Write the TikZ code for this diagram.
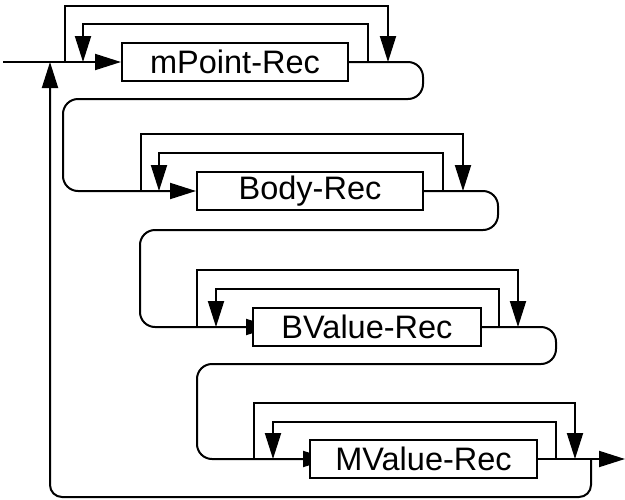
\documentclass[tikz,border=0pt]{standalone}
\usepackage{fontspec}
\setmainfont{Liberation Sans}
\usetikzlibrary{arrows.meta}
\pgfdeclarelayer{bg}
\pgfsetlayers{bg,main}
\begin{document}
\begin{tikzpicture}[x=1pt,y=-1pt,
  rec/.style={draw, line width=2pt, fill=white, minimum width=226pt, minimum height=38pt,
    inner sep=0pt, font=\fontsize{32.5}{36}\selectfont},
  arr/.style={line width=2pt, -{Triangle[length=26pt,width=16pt]}},
  loopline/.style={rounded corners=15pt},
  ]
\useasboundingbox (0,0) rectangle (625,499);

% boxes
\node[rec] (b1) at (235,62) {mPoint-Rec};
\node[rec] (b2) at (310,191) {Body-Rec};
\node[rec, minimum width=228pt] (b3) at (367,327) {BValue-Rec};
\node[rec, minimum width=227pt] (b4) at (423.5,459) {MValue-Rec};

% coordinates
\coordinate (s) at (3,62);
\coordinate (j1) at (50,62);
\coordinate (oL1) at (65,62);  \coordinate (iL1) at (83,62);
\coordinate (iR1) at (368,62); \coordinate (oR1) at (388,62);
\coordinate (rc1) at (423,99); \coordinate (lc1) at (63,99);

\coordinate (oL2) at (141,191); \coordinate (iL2) at (159,191);
\coordinate (iR2) at (443,191); \coordinate (oR2) at (463,191);
\coordinate (rc2) at (498,230); \coordinate (lc2) at (140,230);

\coordinate (oL3) at (197,327); \coordinate (iL3) at (216,327);
\coordinate (iR3) at (499,327); \coordinate (oR3) at (518,327);
\coordinate (rc3) at (556,364); \coordinate (lc3) at (197,364);
\coordinate (t3) at (272,327);

\coordinate (oL4) at (254,459); \coordinate (iL4) at (273,459);
\coordinate (iR4) at (556,459); \coordinate (oR4) at (575,459);
\coordinate (t4) at (329,459);
\coordinate (rb) at (591,459); \coordinate (rbc) at (591,497);
\coordinate (lbc) at (50,497);
\coordinate (e) at (625,459);

\begin{pgfonlayer}{bg}
% row 1
\draw[arr] (s) -- (b1.west);
\draw[arr] (oL1) -- ++(0,-56) -| (oR1);
\draw[arr] (iR1) -- ++(0,-38) -| (iL1);
\draw[arr, loopline] (b1.east) -| (rc1) -- (lc1) |- (b2.west);
% row 2
\draw[arr] (oL2) -- ++(0,-57) -| (oR2);
\draw[arr] (iR2) -- ++(0,-38) -| (iL2);
\draw[arr, loopline] (b2.east) -| (rc2) -- (lc2) |- (t3);
% row 3
\draw[arr] (oL3) -- ++(0,-57) -| (oR3);
\draw[arr] (iR3) -- ++(0,-38) -| (iL3);
\draw[arr, loopline] (b3.east) -| (rc3) -- (lc3) |- (t4);
% row 4
\draw[arr] (oL4) -- ++(0,-56) -| (oR4);
\draw[arr] (iR4) -- ++(0,-37) -| (iL4);
\draw[arr] (b4.east) -- (e);
\draw[arr, rounded corners=12pt] (rb) -- (rbc) -- (lbc) -- (j1);
\end{pgfonlayer}
\end{tikzpicture}
\end{document}
